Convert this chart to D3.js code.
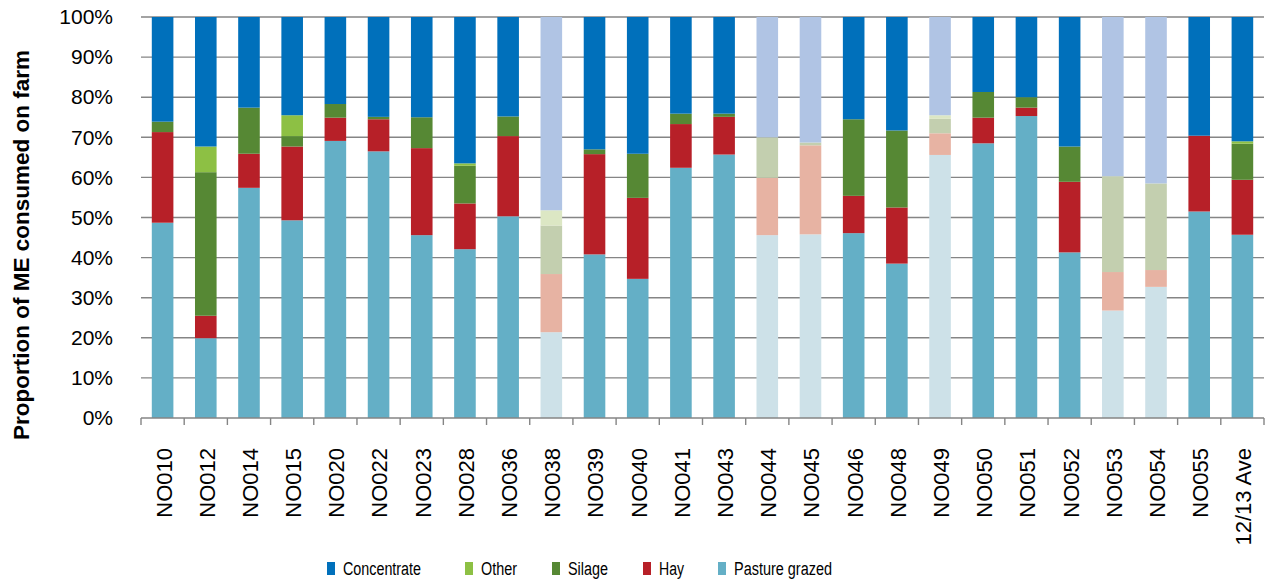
<!DOCTYPE html>
<html>
<head>
<meta charset="utf-8">
<script src="https://cdn.jsdelivr.net/npm/d3@7"></script>
<style>
  html, body { margin: 0; padding: 0; background: #fff; }
  svg { display: block; }
  text { font-family: "Liberation Sans", Arial, sans-serif; fill: #000; }
</style>
</head>
<body>
<svg id="chart" width="1266" height="580"></svg>
<script>
// Farms, plus the season average
const farms = ["NO010","NO012","NO014","NO015","NO020","NO022","NO023","NO028","NO036","NO038",
  "NO039","NO040","NO041","NO043","NO044","NO045","NO046","NO048","NO049","NO050",
  "NO051","NO052","NO053","NO054","NO055","12/13 Ave"];

// Share of metabolisable energy (%) by feed source
const pastureGrazed = [48.7,19.9,57.4,49.3,69.1,66.5,45.6,42.1,50.3,21.4,40.8,34.7,62.4,65.7,45.6,45.8,46.1,38.5,65.6,68.5,75.3,41.3,26.8,32.7,51.5,45.7];
const hay           = [22.6,5.6,8.5,18.4,5.8,8.0,21.7,11.4,20.0,14.5,25.0,20.2,10.9,9.4,14.3,22.2,9.3,14.0,5.4,6.4,2.1,17.6,9.6,4.2,18.9,13.7];
const silage        = [2.6,35.8,11.5,2.6,3.4,0.6,7.7,9.4,4.9,12.1,1.2,11.0,2.6,0.8,10.1,0.7,19.1,19.2,3.6,6.4,2.6,8.8,23.9,21.6,0.0,9.0];
const other         = [0,6.4,0,5.2,0,0,0,0.6,0,3.8,0,0,0,0,0,0,0,0,0.9,0,0,0,0,0,0,0.6];
const concentrate   = [26.1,32.3,22.6,24.5,21.7,24.9,25.0,36.5,24.8,48.2,33.0,34.1,24.1,24.1,30.0,31.3,25.5,28.3,24.5,18.7,20.0,32.3,39.7,41.5,29.6,31.0];

// Farms shown in pale tones
const paleFarms = ["NO038","NO044","NO045","NO049","NO053","NO054"];

const yTicks = [0,10,20,30,40,50,60,70,80,90,100];

// Series, bottom of the stack first
const seriesKeys = ["Pasture grazed","Hay","Silage","Other","Concentrate"];
const seriesValues = {"Pasture grazed": pastureGrazed, "Hay": hay, "Silage": silage, "Other": other, "Concentrate": concentrate};
const legendOrder = ["Concentrate","Other","Silage","Hay","Pasture grazed"];

const colour = d3.scaleOrdinal().domain(seriesKeys)
  .range(["#64afc6","#b72028","#568834","#8dc044","#0070bb"]);
const paleColour = d3.scaleOrdinal().domain(seriesKeys)
  .range(["#cde1e8","#e7b3a3","#c3cfaf","#dce7c4","#b0c4e4"]);

const rows = farms.map((f, i) => {
  const r = {farm: f};
  seriesKeys.forEach(k => r[k] = seriesValues[k][i]);
  return r;
});
const stacked = d3.stack().keys(seriesKeys)(rows);

const svg = d3.select("#chart");
const plotLeft = 141, plotRight = 1264, plotTop = 17, plotBottom = 418;

const x = d3.scaleBand().domain(farms).range([plotLeft, plotRight]).paddingInner(0.5).paddingOuter(0.25);
const y = d3.scaleLinear().domain([0, 100]).range([plotBottom, plotTop]);

// Horizontal gridlines
svg.append("g").selectAll("line").data(yTicks.filter(t => t > 0)).join("line")
  .attr("x1", plotLeft).attr("x2", plotRight)
  .attr("y1", d => y(d)).attr("y2", d => y(d))
  .attr("stroke", "#858585").attr("stroke-width", 1.4);

// Stacked bars
svg.append("g").selectAll("g").data(stacked).join("g")
  .selectAll("rect").data(s => s.map(d => ({key: s.key, d}))).join("rect")
  .attr("x", p => x(p.d.data.farm))
  .attr("width", x.bandwidth())
  .attr("y", p => y(p.d[1]))
  .attr("height", p => Math.max(0, y(p.d[0]) - y(p.d[1])))
  .attr("fill", p => paleFarms.includes(p.d.data.farm) ? paleColour(p.key) : colour(p.key));

// Y axis labels
const yAxis = svg.append("g").attr("transform", `translate(${plotLeft},0)`)
  .call(d3.axisLeft(y).tickValues(yTicks).tickFormat(d => d + "%").tickSize(0).tickPadding(28));
yAxis.select(".domain").remove();
yAxis.selectAll("text").attr("font-size", 21).attr("font-family", "Liberation Sans, Arial, sans-serif");

// X axis with tick marks on band boundaries
const xAxisG = svg.append("g").attr("transform", `translate(0,${plotBottom})`);
xAxisG.append("line").attr("x1", plotLeft).attr("x2", plotRight).attr("y1", 0).attr("y2", 0)
  .attr("stroke", "#858585").attr("stroke-width", 1.4);
const boundaries = d3.range(farms.length + 1).map(i => plotLeft + i * (plotRight - plotLeft) / farms.length);
xAxisG.selectAll("line.tick").data(boundaries).join("line").attr("class", "tick")
  .attr("x1", d => d).attr("x2", d => d).attr("y1", 0).attr("y2", 7)
  .attr("stroke", "#858585").attr("stroke-width", 1.4);
xAxisG.selectAll("text").data(farms).join("text")
  .attr("transform", d => `translate(${x(d) + x.bandwidth() / 2 + 1},30) rotate(-90)`)
  .attr("text-anchor", "end")
  .attr("dy", "0.36em")
  .attr("font-size", 22)
  .text(d => d);

// Y axis title
svg.append("text")
  .attr("transform", "translate(29,245) rotate(-90)")
  .attr("text-anchor", "middle")
  .attr("font-size", 22.5)
  .attr("font-weight", "bold")
  .text("Proportion of ME consumed on farm");

// Legend
const legendX = {"Concentrate": 327, "Other": 465, "Silage": 552, "Hay": 643, "Pasture grazed": 718};
const legendW = {"Concentrate": 78, "Other": 36, "Silage": 40, "Hay": 25, "Pasture grazed": 98};
const lg = svg.append("g").selectAll("g").data(legendOrder).join("g")
  .attr("transform", d => `translate(${legendX[d]},0)`);
lg.append("rect").attr("x", 0).attr("y", 562).attr("width", 8).attr("height", 13)
  .attr("fill", d => colour(d));
lg.append("text").attr("x", 16).attr("y", 575).attr("font-size", 18)
  .attr("textLength", d => legendW[d]).attr("lengthAdjust", "spacingAndGlyphs")
  .text(d => d);
</script>
</body>
</html>
